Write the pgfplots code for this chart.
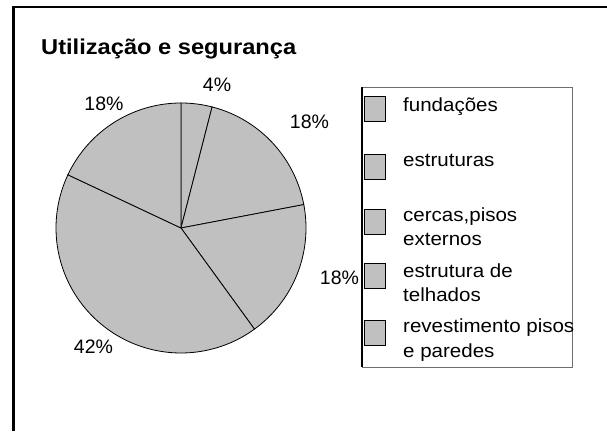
\documentclass[border=0pt]{standalone}
\usepackage{fontspec}
\setmainfont{Liberation Sans}
\newfontfamily\widesans[FakeStretch=1.08]{Liberation Sans}
\newfontfamily\widetitle[FakeStretch=1.1]{Liberation Sans Bold}
\usepackage{pgfplots}
\pgfplotsset{compat=1.18}
\definecolor{slicegray}{RGB}{192,192,192}
\definecolor{boxgray}{RGB}{110,110,110}

% one pie slice between two angles (degrees), centre (181,203), radius 125
\newcommand{\pieslice}[2]{%
  \addplot[draw=black, fill=slicegray, line width=0.8pt, domain=#1:#2, samples=80]
    ({181+125*cos(x)}, {203+125*sin(x)}) -- (axis cs:181,203) -- cycle;
}
\newcommand{\lab}{\fontsize{19.5}{23}\selectfont}
\newcommand{\leg}{\widesans\fontsize{19}{23}\selectfont}

\begin{document}
\begin{tikzpicture}
\begin{axis}[
  scale only axis, width=607pt, height=431pt,
  xmin=0, xmax=607, ymin=0, ymax=431,
  hide axis, clip=false,
]
% shares, clockwise from 12 o'clock: 4, 18, 18, 42, 18 (%)
\pieslice{75.6}{90}
\pieslice{10.8}{75.6}
\pieslice{-54}{10.8}
\pieslice{-205.2}{-54}
\pieslice{-270}{-205.2}

% percentage labels
\node[font=\lab, anchor=base] at (axis cs:217,339) {4\%};
\node[font=\lab, anchor=base] at (axis cs:309.5,302) {18\%};
\node[font=\lab, anchor=base] at (axis cs:339.5,146) {18\%};
\node[font=\lab, anchor=base] at (axis cs:93.5,77) {42\%};
\node[font=\lab, anchor=base] at (axis cs:104,320) {18\%};

% title
\node[font=\widetitle\fontsize{21.5}{25}\selectfont, anchor=base west, inner sep=0pt] at (axis cs:41,376) {Utilização e segurança};

% outer frame (left and top only)
\draw[line width=2.5pt] (axis cs:13.5,0) -- (axis cs:13.5,424) -- (axis cs:607,424);

% legend
\draw[boxgray, line width=0.8pt] (axis cs:362,64) rectangle (axis cs:572,344);
\draw[line width=2pt] (axis cs:362,64) -- (axis cs:362,344);
\pgfplotsinvokeforeach{310,252,197,143,86}{
  \draw[black, fill=slicegray, line width=0.8pt] (axis cs:364,#1) rectangle (axis cs:385,#1+25);
  \draw[black, line width=1.6pt] (axis cs:364.5,#1) -- (axis cs:364.5,#1+25);
}
\node[font=\leg, anchor=base west, inner sep=0pt] at (axis cs:403,319) {fundações};
\node[font=\leg, anchor=base west, inner sep=0pt] at (axis cs:403,264) {estruturas};
\node[font=\leg, anchor=base west, inner sep=0pt] at (axis cs:403,209) {cercas,pisos};
\node[font=\leg, anchor=base west, inner sep=0pt] at (axis cs:403,185) {externos};
\node[font=\leg, anchor=base west, inner sep=0pt] at (axis cs:403,153) {estrutura de};
\node[font=\leg, anchor=base west, inner sep=0pt] at (axis cs:403,129) {telhados};
\node[font=\leg, anchor=base west, inner sep=0pt] at (axis cs:403,98) {revestimento pisos};
\node[font=\leg, anchor=base west, inner sep=0pt] at (axis cs:403,74) {e paredes};
\end{axis}
\pgfresetboundingbox
\useasboundingbox (current axis.south west) rectangle (current axis.north east);
\end{tikzpicture}
\end{document}
